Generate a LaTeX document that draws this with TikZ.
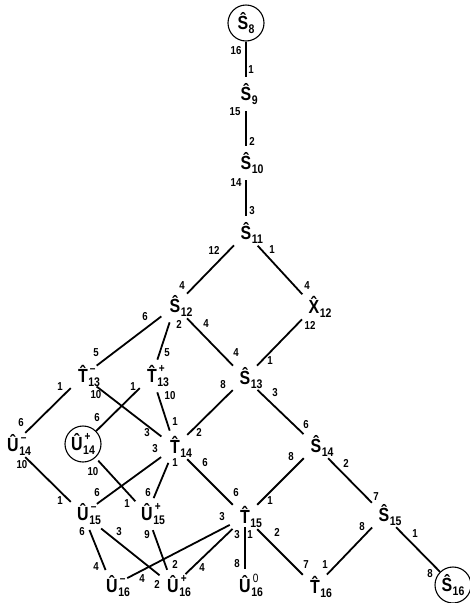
\documentclass[tikz,border=0pt]{standalone}
\usepackage{fontspec}
\setmainfont{Liberation Sans}[FakeStretch=0.84]
\newcommand\ssc[2]{\smash{\rlap{\kern1.5pt\raisebox{10pt}{\fontsize{12}{12}\selectfont #1}}\raisebox{-3.5pt}{\fontsize{12.5}{12.5}\selectfont #2}}}
\newcommand\nd[3]{#1\rlap{\kern0.5pt\ssc{#2}{#3}}}
\newcommand\ndc[3]{#1\kern0.5pt\ssc{#2}{#3}}
\newcommand\hS{S^^^^0302}
\newcommand\hT{T^^^^0302}
\newcommand\hU{U^^^^0302}
\newcommand\hX{X^^^^0302}
\newcommand\mn{\char"2013}
\tikzset{
  vx/.style={circle, inner sep=0pt, minimum size=34pt, text height=13.6pt, text depth=0pt,
    font=\fontsize{19}{19}\selectfont\bfseries},
  cx/.style={vx, draw, minimum size=36pt, line width=1.1pt},
  lab/.style={inner sep=0pt, font=\fontsize{11.5}{11.5}\selectfont\bfseries},
  ln/.style={line width=1.8pt}
}
\begin{document}
\begin{tikzpicture}[x=1pt,y=-1pt]
\useasboundingbox (0,0) rectangle (470,603);
% vertices
\node[cx] (S8)  at (246,23)  {\ndc{\hS}{}{8}};
\node[vx] (S9)  at (246,94)  {\nd{\hS}{}{9}};
\node[vx] (S10) at (246,163) {\nd{\hS}{}{10}};
\node[vx] (S11) at (246,233) {\nd{\hS}{}{11}};
\node[vx] (S12) at (175,306) {\nd{\hS}{}{12}};
\node[vx] (X12) at (314,307) {\nd{\hX}{}{12}};
\node[vx] (T13m) at (83,376) {\nd{\hT}{\mn}{13}};
\node[vx] (T13p) at (152,376) {\nd{\hT}{+}{13}};
\node[vx] (S13) at (245,378) {\nd{\hS}{}{13}};
\node[vx] (U14m) at (13,445) {\nd{\hU}{\mn}{14}};
\node[cx] (U14p) at (83,444) {\ndc{\hU}{+}{14}};
\node[vx] (T14) at (175,447) {\nd{\hT}{}{14}};
\node[vx] (S14) at (316,446) {\nd{\hS}{}{14}};
\node[vx] (U15m) at (83,514) {\nd{\hU}{\mn}{15}};
\node[vx] (U15p) at (147,514) {\nd{\hU}{+}{15}};
\node[vx] (T15) at (245,517) {\nd{\hT}{}{15}};
\node[vx] (S15) at (384,515) {\nd{\hS}{}{15}};
\node[vx] (U16m) at (112,586) {\nd{\hU}{\mn}{16}};
\node[vx] (U16p) at (173,586) {\nd{\hU}{+}{16}};
\node[vx] (U16z) at (245,586) {\nd{\hU}{\mdseries 0}{16}};
\node[vx] (T16) at (315,587) {\nd{\hT}{}{16}};
\node[cx] (S16) at (453,585) {\ndc{\hS}{}{16}};
% connectors
\draw[ln] (S8) -- (S9);
\draw[ln] (S9) -- (S10);
\draw[ln] (S10) -- (S11);
\draw[ln] (S11) -- (S12);
\draw[ln] (S11) -- (X12);
\draw[ln] (S12) -- (T13m);
\draw[ln] (S12) -- (T13p);
\draw[ln] (S12) -- (S13);
\draw[ln] (X12) -- (S13);
\draw[ln] (T13m) -- (U14m);
\draw[ln] (T13m) -- (T14);
\draw[ln] (T13p) -- (U14p);
\draw[ln] (T13p) -- (T14);
\draw[ln] (S13) -- (T14);
\draw[ln] (S13) -- (S14);
\draw[ln] (U14m) -- (U15m);
\draw[ln,shorten <=4pt] (U14p) -- (U15p);
\draw[ln] (T14) -- (U15m);
\draw[ln] (T14) -- (U15p);
\draw[ln] (T14) -- (T15);
\draw[ln] (S14) -- (T15);
\draw[ln] (S14) -- (S15);
\draw[ln] (U15m) -- (U16m);
\draw[ln,shorten <=6pt] (U15m) -- (U16p);
\draw[ln] (U15p) -- (U16p);
\draw[ln] (T15) -- (U16m);
\draw[ln] (T15) -- (U16p);
\draw[ln,shorten <=-7pt] (T15) -- (U16z);
\draw[ln] (T15) -- (T16);
\draw[ln] (S15) -- (T16);
\draw[ln] (S15) -- (S16);
% end labels
\node[lab] (a1) at (236,51) {16};  \node[lab] (b1) at (251,70) {1};
\node[lab] (a2) at (235,112) {15}; \node[lab] (b2) at (252,141) {2};
\node[lab] (a3) at (236,183) {14}; \node[lab] (b3) at (252,211) {3};
\node[lab] (a4) at (214,250) {12}; \node[lab] (b4) at (182,286) {4};
\node[lab] (a5) at (272,250) {1};  \node[lab] (b5) at (307,286) {4};
\node[lab] (a6) at (145,317) {6};  \node[lab] (b6) at (96,353) {5};
\node[lab] (a7) at (179,324) {2};  \node[lab] (b7) at (167,353) {5};
\node[lab] (a8) at (206,324) {4};  \node[lab] (b8) at (236,353) {4};
\node[lab] (a9) at (310,325) {12}; \node[lab] (b9) at (270,361) {1};
\node[lab] (a10) at (60,387) {1};  \node[lab] (b10) at (21,423) {6};
\node[lab] (a11) at (96,395) {10}; \node[lab] (b11) at (147,433) {3};
\node[lab] (a12) at (133,387) {1}; \node[lab] (b12) at (97,418) {6};
\node[lab] (a13) at (170,396) {10};\node[lab] (b13) at (175,422) {1};
\node[lab] (a14) at (223,385) {8};  \node[lab] (b14) at (199,432) {2};
\node[lab] (a15) at (275,393) {3};  \node[lab] (b15) at (306,425) {6};
\node[lab] (a16) at (22,465) {10};  \node[lab] (b16) at (60,501) {1};
\node[lab] (a17) at (93,472) {10};  \node[lab] (b17) at (127,504) {1};
\node[lab] (a18) at (155,449) {3};  \node[lab] (b18) at (97,493) {6};
\node[lab] (a19) at (175,463) {1};  \node[lab] (b19) at (148,493) {6};
\node[lab] (a20) at (205,463) {6};  \node[lab] (b20) at (236,493) {6};
\node[lab] (a21) at (291,457) {8};  \node[lab] (b21) at (270,501) {1};
\node[lab] (a22) at (346,463) {2};  \node[lab] (b22) at (376,497) {7};
\node[lab] (a23) at (82,532) {6};   \node[lab] (b23) at (96,567) {4};
\node[lab] (a24) at (119,532) {3};  \node[lab] (b24) at (157,584) {2};
\node[lab] (a25) at (147,535) {9};  \node[lab] (b25) at (175,564) {2};
\node[lab] (a26) at (222,517) {3};  \node[lab] (b26) at (142,579) {4};
\node[lab] (a27) at (237,535) {3};  \node[lab] (b27) at (202,568) {4};
\node[lab] (a28) at (250,535) {1};  \node[lab] (b28) at (237,564) {8};
\node[lab] (a29) at (277,532) {2};  \node[lab] (b29) at (306,565) {7};
\node[lab] (a30) at (362,527) {8};  \node[lab] (b30) at (325,565) {1};
\node[lab] (a31) at (415,534) {1};  \node[lab] (b31) at (430,574) {8};
\end{tikzpicture}
\end{document}
